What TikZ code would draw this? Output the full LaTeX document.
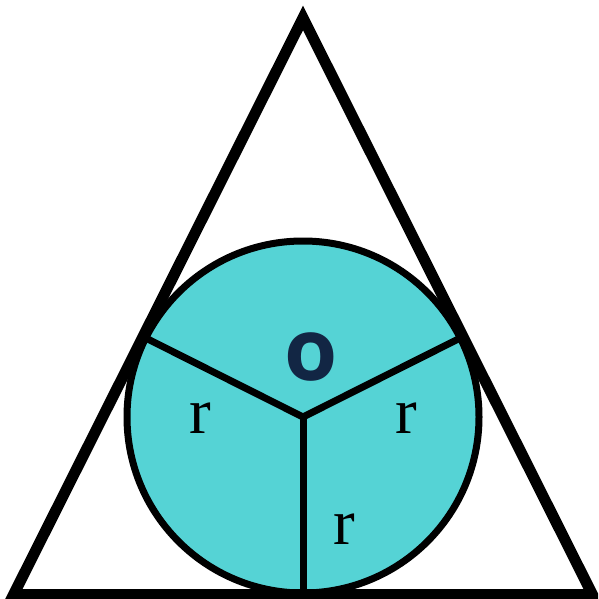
\documentclass[tikz,border=0pt]{standalone}
\usepackage{fontspec}
\setmainfont{Liberation Serif}
\newfontfamily\osans{Open Sans}
\definecolor{fillc}{RGB}{85,211,213}
\definecolor{navy}{RGB}{18,38,68}
\begin{document}
\begin{tikzpicture}[x=1pt,y=-1pt,
  tri/.style={line width=11pt,line join=miter,miter limit=20},
  circ/.style={line width=7pt,fill=fillc},
  rad/.style={line width=7pt},
  rlabel/.style={inner sep=0pt,font=\fontsize{65}{65}\selectfont},
  olabel/.style={inner sep=0pt,text=navy,font=\osans\bfseries\fontsize{86}{86}\selectfont}]
\useasboundingbox (0,0) rectangle (598,599);
\clip (0,0) rectangle (598,599);
\coordinate (O) at (303,417);
\coordinate (A) at (303,18);
\coordinate (B) at (13.6,594.5);
\coordinate (C) at (592.4,594.5);
\coordinate (TL) at (145.7,338);
\coordinate (TR) at (460.3,338);
\coordinate (TB) at (303,593);
\fill[fillc] (O) circle[radius=176];
\draw[rad] (O) -- (TL);
\draw[rad] (O) -- (TR);
\draw[rad] (O) -- (TB);
\draw[line width=7pt] (O) circle[radius=176];
\draw[tri] (A) -- (B) -- (C) -- cycle;
\node[olabel] (o) at (311,357) {o};
\node[rlabel] (r1) at (200,418) {r};
\node[rlabel] (r2) at (406,418) {r};
\node[rlabel] (r3) at (344,529) {r};
\end{tikzpicture}
\end{document}
